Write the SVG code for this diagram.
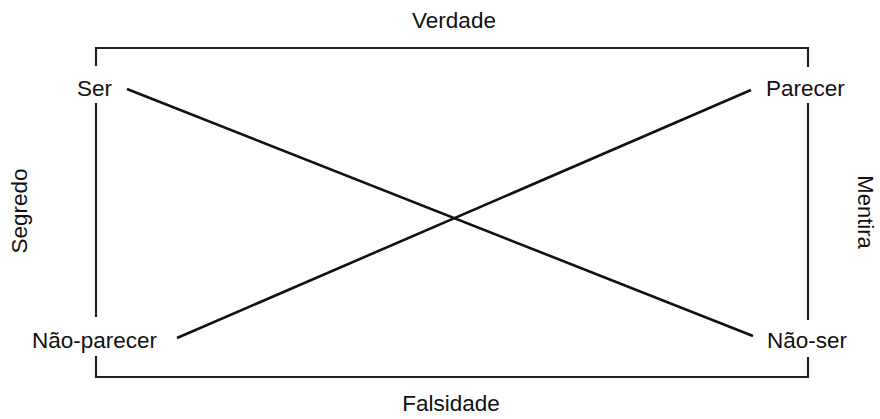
<svg xmlns="http://www.w3.org/2000/svg" width="880" height="419" viewBox="0 0 880 419">
<style>
text{font-family:"Liberation Sans",Arial,sans-serif;font-size:22.5px;fill:#111}
.frame{stroke:#222;stroke-width:2.2;fill:none}
.diag{stroke:#111;stroke-width:2.6;fill:none}
</style>
<rect width="880" height="419" fill="#fff"/>
<g id="frame" class="frame">
<polyline points="96,66 96,48 808,48 808,67"/>
<polyline points="96,356 96,377 808,377 808,357"/>
<line x1="96" y1="103" x2="96" y2="317"/>
<line x1="808" y1="103" x2="808" y2="320"/>
</g>
<g id="connectors" class="diag">
<line x1="127" y1="89" x2="753" y2="336"/>
<line x1="177" y1="338" x2="751" y2="90"/>
</g>
<g id="ser"><text x="77" y="96">Ser</text></g>
<g id="parecer"><text x="766" y="96">Parecer</text></g>
<g id="nao-parecer"><text x="32" y="348">Não-parecer</text></g>
<g id="nao-ser"><text x="767" y="348">Não-ser</text></g>
<g id="verdade"><text x="454" y="28" text-anchor="middle">Verdade</text></g>
<g id="falsidade"><text x="451" y="411" text-anchor="middle">Falsidade</text></g>
<g id="segredo"><text transform="translate(27,211) rotate(-90)" text-anchor="middle">Segredo</text></g>
<g id="mentira"><text transform="translate(858,212) rotate(90)" text-anchor="middle" style="font-size:22px">Mentira</text></g>
</svg>
